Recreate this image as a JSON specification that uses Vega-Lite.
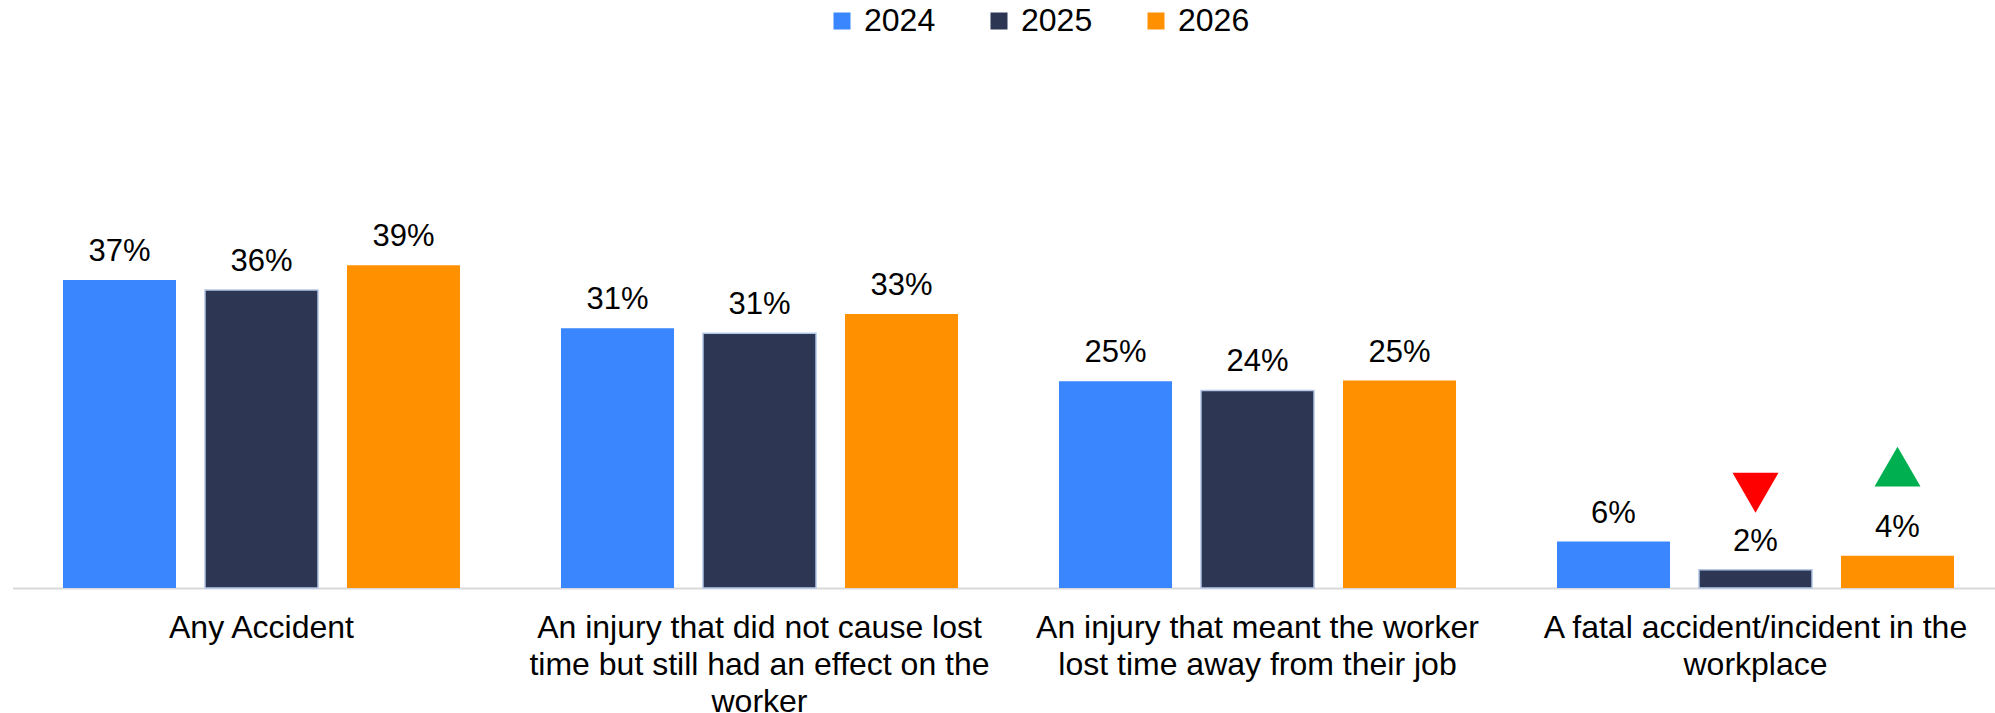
{
  "$schema": "https://vega.github.io/schema/vega-lite/v6.json",
  "width": 1982.5,
  "height": 415,
  "autosize": {"type": "none"},
  "padding": {"left": 12.5, "top": 173, "right": 0, "bottom": 125},
  "background": "white",
  "config": {"view": {"stroke": null}, "font": "Liberation Sans"},
  "data": {
    "values": [
      {"category": "Any Accident", "year": "2024", "value": 0.371, "change": null},
      {"category": "Any Accident", "year": "2025", "value": 0.359, "change": null},
      {"category": "Any Accident", "year": "2026", "value": 0.389, "change": null},
      {"category": "An injury that did not cause lost time but still had an effect on the worker", "year": "2024", "value": 0.313, "change": null},
      {"category": "An injury that did not cause lost time but still had an effect on the worker", "year": "2025", "value": 0.307, "change": null},
      {"category": "An injury that did not cause lost time but still had an effect on the worker", "year": "2026", "value": 0.33, "change": null},
      {"category": "An injury that meant the worker lost time away from their job", "year": "2024", "value": 0.249, "change": null},
      {"category": "An injury that meant the worker lost time away from their job", "year": "2025", "value": 0.238, "change": null},
      {"category": "An injury that meant the worker lost time away from their job", "year": "2026", "value": 0.25, "change": null},
      {"category": "A fatal accident/incident in the workplace", "year": "2024", "value": 0.056, "change": null},
      {"category": "A fatal accident/incident in the workplace", "year": "2025", "value": 0.022, "change": "down"},
      {"category": "A fatal accident/incident in the workplace", "year": "2026", "value": 0.039, "change": "up"}
    ]
  },
  "encoding": {
    "x": {
      "field": "category",
      "type": "nominal",
      "sort": [
        "Any Accident",
        "An injury that did not cause lost time but still had an effect on the worker",
        "An injury that meant the worker lost time away from their job",
        "A fatal accident/incident in the workplace"
      ],
      "scale": {"paddingInner": 0, "paddingOuter": 0, "range": [0, 1992]},
      "axis": {
        "title": null,
        "labelAngle": 0,
        "labelFontSize": 32,
        "labelFont": "Liberation Sans",
        "labelColor": "black",
        "labelLineHeight": 37,
        "labelPadding": 24,
        "labelBaseline": "top",
        "labelLimit": 0,
        "ticks": false,
        "domainColor": "#D9D9D9",
        "domainWidth": 2,
        "labelExpr": "datum.value == 'An injury that did not cause lost time but still had an effect on the worker' ? ['An injury that did not cause lost', 'time but still had an effect on the', 'worker'] : datum.value == 'An injury that meant the worker lost time away from their job' ? ['An injury that meant the worker', 'lost time away from their job'] : datum.value == 'A fatal accident/incident in the workplace' ? ['A fatal accident/incident in the', 'workplace'] : datum.value"
      }
    },
    "xOffset": {
      "field": "year",
      "type": "nominal",
      "scale": {"paddingInner": 0.204, "paddingOuter": 0.3555}
    },
    "y": {
      "field": "value",
      "type": "quantitative",
      "scale": {"domain": [0, 0.5]},
      "axis": null
    }
  },
  "layer": [
    {
      "mark": {"type": "bar"},
      "encoding": {
        "color": {
          "field": "year",
          "type": "nominal",
          "scale": {"domain": ["2024", "2025", "2026"], "range": ["#3A86FF", "#2D3653", "#FF9000"]},
          "legend": {
            "orient": "none",
            "legendX": 813.5,
            "legendY": -168,
            "direction": "horizontal",
            "title": null,
            "symbolType": "square",
            "symbolSize": 289,
            "symbolStrokeWidth": 0,
            "labelFontSize": 32,
            "labelFont": "Liberation Sans",
            "labelColor": "black",
            "columnPadding": 47,
            "labelOffset": 6
          }
        },
        "stroke": {"condition": {"test": "datum.year == '2025'", "value": "#B4C7E7"}, "value": null},
        "strokeWidth": {"value": 1.5}
      }
    },
    {
      "mark": {"type": "text", "baseline": "alphabetic", "dy": -19, "fontSize": 31, "color": "black", "font": "Liberation Sans"},
      "encoding": {"text": {"field": "value", "format": ".0%"}}
    },
    {
      "transform": [{"filter": "datum.change == 'down'"}],
      "mark": {"type": "point", "filled": true, "size": 2116, "opacity": 1, "strokeWidth": 0, "shape": "triangle-down", "fill": "#FF0000"},
      "encoding": {
        "yOffset": {"value": -77}
      }
    },
    {
      "transform": [{"filter": "datum.change == 'up'"}],
      "mark": {"type": "point", "filled": true, "size": 2116, "opacity": 1, "strokeWidth": 0, "shape": "triangle-up", "fill": "#00B050"},
      "encoding": {
        "yOffset": {"value": -89}
      }
    }
  ]
}
